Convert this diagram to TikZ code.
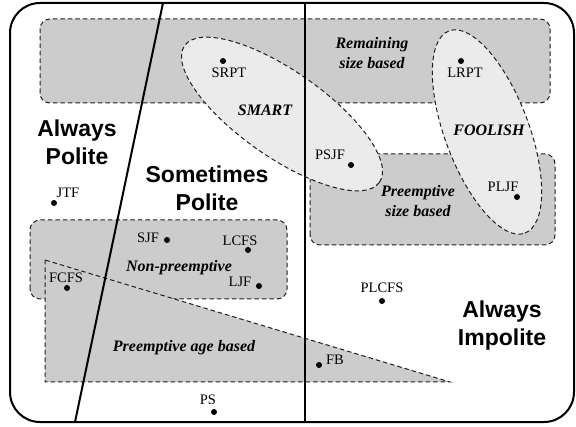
\documentclass[tikz,border=0pt]{standalone}
\usepackage{fontspec}
\setmainfont{Liberation Serif}
\setsansfont{Liberation Sans}
\definecolor{boxgray}{HTML}{CCCCCC}
\definecolor{ellgray}{HTML}{EBEBEB}
\definecolor{edgegray}{HTML}{202020}
\begin{document}
\begin{tikzpicture}[x=1pt,y=1pt,
  region/.style={fill=boxgray,draw=edgegray,line width=1pt,dash pattern=on 4.5pt off 3pt},
  ellregion/.style={fill=ellgray,draw=edgegray,line width=1pt,dash pattern=on 4.5pt off 3pt},
  pt/.style={circle,fill=black,inner sep=0pt,minimum size=6pt},
  ptlabel/.style={font=\fontsize{14.5}{16}\selectfont,inner sep=0pt},
  setlabel/.style={font=\fontsize{16}{20}\selectfont\bfseries\itshape,inner sep=0pt,align=center},
  biglabel/.style={font=\fontsize{23}{28}\selectfont\sffamily\bfseries,inner sep=0pt,align=center},
  divider/.style={line width=2pt,black}]
\useasboundingbox (0,0) rectangle (576,426);
% outer frame
\draw[line width=2pt,rounded corners=30] (10,4) rectangle (574,423);
% size based regions
\path[region,rounded corners=10] (40,323) rectangle (550,407);
\path[region,rounded corners=10] (310,181) rectangle (555,272);
% non-preemptive and preemptive age based
\path[region,rounded corners=10] (30,127) rectangle (287,206);
\path[region] (45,166) -- (45,44) -- (450,44) -- cycle;
% SMART and FOOLISH
\path[ellregion] (282,312) ellipse [x radius=119, y radius=43, rotate=-35];
\path[ellregion] (487,294) ellipse [x radius=108, y radius=42, rotate=-69.4];
% dividers
\draw[divider] (305,423) -- (305,4);
\draw[divider] (163,423) -- (75,4);
% region labels
\node[setlabel] (lrem) at (372,373) {Remaining\\size based};
\node[setlabel] (lsmart) at (265,316) {SMART};
\node[setlabel] (lfool) at (489,296) {FOOLISH};
\node[setlabel] (lpsize) at (418,225) {Preemptive\\size based};
\node[setlabel] (lnonp) at (179,158) {Non-preemptive};
\node[setlabel] (lage) at (184,78) {Preemptive age based};
\node[biglabel] (lap) at (77,284) {Always\\Polite};
\node[biglabel] (lsp) at (207,238) {Sometimes\\Polite};
\node[biglabel] (lai) at (502,100) {Always\\Impolite};
% points
\node[pt] (srpt) at (223,365) {};
\node[ptlabel] (srptl) at (229,353) {SRPT};
\node[pt] (psjf) at (351,261) {};
\node[ptlabel] (psjfl) at (330,271) {PSJF};
\node[pt] (lrpt) at (461,365) {};
\node[ptlabel] (lrptl) at (465,353) {LRPT};
\node[pt] (pljf) at (517,229) {};
\node[ptlabel] (pljfl) at (503,239) {PLJF};
\node[pt] (jtf) at (54,223) {};
\node[ptlabel] (jtfl) at (68,233) {JTF};
\node[pt] (sjf) at (167,186) {};
\node[ptlabel] (sjfl) at (148,188) {SJF};
\node[pt] (lcfs) at (248,176) {};
\node[ptlabel] (lcfsl) at (240,185) {LCFS};
\node[pt] (ljf) at (259,140) {};
\node[ptlabel] (ljfl) at (240,144) {LJF};
\node[pt] (fcfs) at (67,138) {};
\node[ptlabel] (fcfsl) at (66,148) {FCFS};
\node[pt] (ps) at (214,14) {};
\node[ptlabel] (psl) at (208,26) {PS};
\node[pt] (plcfs) at (382,125) {};
\node[ptlabel] (plcfsl) at (382,138) {PLCFS};
\node[pt] (fb) at (319,61) {};
\node[ptlabel] (fbl) at (335,66) {FB};
\end{tikzpicture}
\end{document}
